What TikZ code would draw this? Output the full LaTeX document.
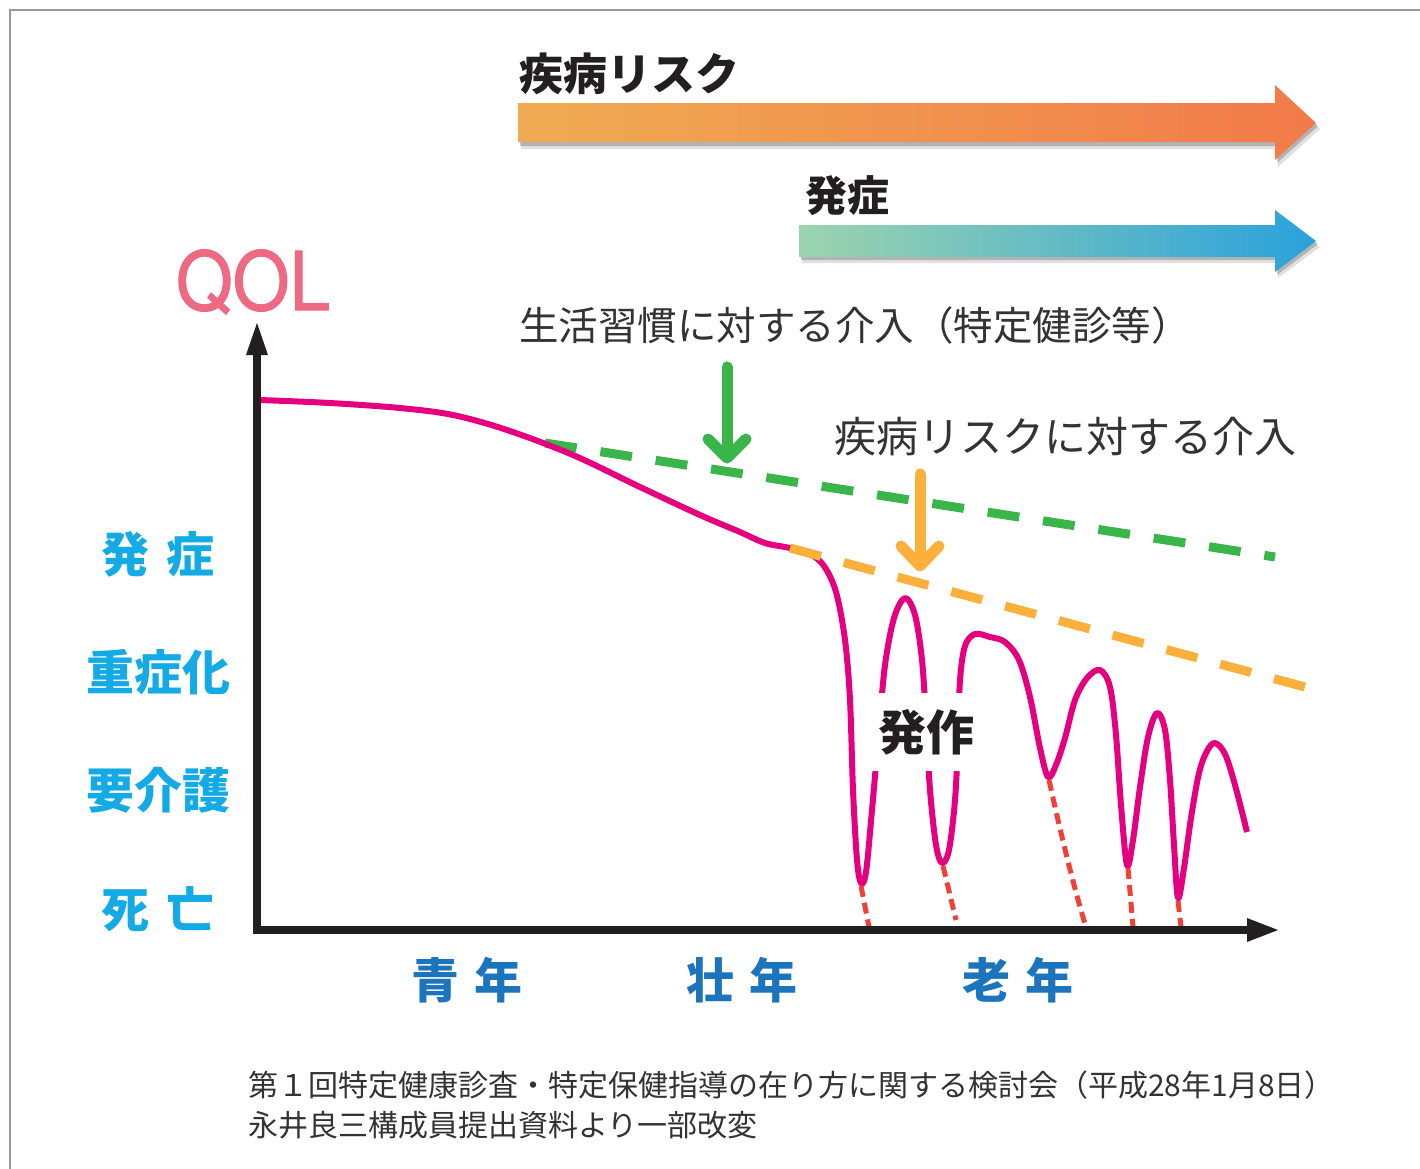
\documentclass[tikz,border=0pt]{standalone}
\usepackage{fontspec}
\newfontfamily\jp{Noto Sans CJK JP}
\newfontfamily\qolfont[FakeStretch=0.9, FakeBold=1.3]{TeX Gyre Heros}
\definecolor{pinkc}{HTML}{E4007F}
\definecolor{greenc}{HTML}{39B54A}
\definecolor{orangec}{HTML}{FBB03B}
\definecolor{redc}{HTML}{EF4136}
\definecolor{cyanc}{HTML}{14AAE6}
\definecolor{bluec}{HTML}{1C75BC}
\definecolor{qolc}{HTML}{EE6A82}
\definecolor{txtc}{HTML}{333333}
\definecolor{axisc}{HTML}{231F20}
\tikzset{
  lbl/.style={font=\jp\bfseries\fontsize{48}{52}\selectfont, text=cyanc, inner sep=0pt},
  agelbl/.style={font=\jp\bfseries\fontsize{48}{52}\selectfont, text=bluec, inner sep=0pt},
  head/.style={font=\jp\bfseries\fontsize{44}{48}\selectfont, text=axisc, inner sep=0pt},
  note/.style={font=\jp\fontsize{#1}{#1}\selectfont, text=txtc, inner sep=0pt},
  downarrow/.style={line width=11pt, line cap=round, line join=round},
  reddash/.style={redc, line width=5pt, dash pattern=on 11pt off 6pt},
}
\begin{document}
\begin{tikzpicture}[x=1pt,y=-1pt]
\useasboundingbox (0,0) rectangle (1420,1168);
% frame
\draw[gray!80, line width=2pt] (10,1172) -- (10,10) -- (1424,10);

% top arrows (shadows)
\fill[black, opacity=0.12] (521,109) -- (1278,109) -- (1278,91) -- (1320,129) -- (1278,167) -- (1278,149) -- (521,149) -- cycle;
\fill[black, opacity=0.2] (520,106) -- (1277,106) -- (1277,88) -- (1318,126) -- (1277,163) -- (1277,146) -- (520,146) -- cycle;
\shade[left color={rgb,255:red,239;green,171;blue,83}, right color={rgb,255:red,242;green,122;blue,74}]
  (518,103) -- (1275,103) -- (1275,85) -- (1316,123) -- (1275,160) -- (1275,142) -- (518,142) -- cycle;
\node[head] (risk) at (629,74) {疾病リスク};

\fill[black, opacity=0.12] (802,231) -- (1278,231) -- (1278,216) -- (1320,247) -- (1278,278) -- (1278,263) -- (802,263) -- cycle;
\fill[black, opacity=0.2] (801,228) -- (1277,228) -- (1277,213) -- (1318,244) -- (1277,275) -- (1277,260) -- (801,260) -- cycle;
\shade[left color={rgb,255:red,157;green,212;blue,174}, right color={rgb,255:red,42;green,161;blue,220}]
  (799,225) -- (1275,225) -- (1275,210) -- (1316,241) -- (1275,272) -- (1275,257) -- (799,257) -- cycle;
\node[head, font=\jp\bfseries\fontsize{42}{46}\selectfont] (onset) at (847,196) {発症};

% QOL
\node[font=\qolfont\fontsize{81}{85}\selectfont, text=qolc, anchor=base, inner sep=0pt] (qol) at (253,310) {QOL};

% intervention texts
\node[note=39.5] (t1) at (855,325) {生活習慣に対する介入（特定健診等）};
\node[note=42] (t2) at (1065,437) {疾病リスクに対する介入};

% green dashed trend
\draw[greenc, line width=9pt, dash pattern=on 32pt off 24pt] (545,443) -- (1275,557);

% pink curve
\draw[pinkc, line width=6pt, line join=round] plot[smooth, tension=0.55] coordinates {
(260,400) (330,403) (400,408) (453,415) (507,430) (573,455) (640,487) (700,515) (740,532) (765,543) (790,548) (810,554) (824,566) (836,592) (845,640) (850,700) (853,790) (857,860) (861,883) (866,872) (872,810) (879,730) (885,665) (894,618) (905,598) (915,615) (922,660) (926,720) (930,790) (936,845) (942,863) (949,850) (955,800) (958,740) (960,680) (965,646) (975,634) (990,637) (1005,642) (1019,660) (1030,697) (1040,748) (1048,777) (1056,765) (1065,738) (1075,700) (1087,678) (1100,670) (1110,687) (1116,735) (1121,805) (1127,865) (1133,840) (1140,787) (1148,737) (1157,713) (1165,730) (1170,780) (1174,845) (1178,898) (1184,868) (1191,818) (1199,773) (1207,751) (1215,743) (1225,754) (1235,785) (1247,832)};

% orange dashed trend
\draw[orangec, line width=9pt, dash pattern=on 32pt off 23.7pt] (790,548) -- (1305,687);

% red dashed to death
\draw[reddash] (861,886) -- (869,927);
\draw[reddash] (943,866) -- (956,920);
\draw[reddash] (1049,780) .. controls (1060,830) and (1073,885) .. (1086,927);
\draw[reddash] (1128,868) -- (1133,927);
\draw[reddash] (1178,901) -- (1181,927);

% seizure label with white knockout
\node[fill=white, minimum width=110pt, minimum height=78pt, inner sep=0pt, font=\jp\bfseries\fontsize{48}{52}\selectfont, text=axisc] (attack) at (926,732) {発作};

% down arrows
\draw[greenc, downarrow] (727,367) -- (727,457);
\draw[greenc, downarrow] (708,439) -- (727,458) -- (746,439);
\draw[orangec, downarrow] (920,474) -- (920,565);
\draw[orangec, downarrow] (901,546) -- (920,566) -- (939,546);

% axes
\draw[axisc, line width=8pt] (257,934) -- (257,350);
\fill[axisc] (246,355) -- (257,323) -- (268,355) -- cycle;
\draw[axisc, line width=8pt] (253,930) -- (1250,930);
\fill[axisc] (1247,918) -- (1278,930) -- (1247,942) -- cycle;

% y labels
\node[lbl] (l1) at (158,554) {発\hspace{17pt}症};
\node[lbl] (l2) at (158,672) {重症化};
\node[lbl] (l3) at (158,790) {要介護};
\node[lbl] (l4) at (158,909) {死\hspace{17pt}亡};

% x labels
\node[agelbl] (a1) at (467,980) {青\hspace{16pt}年};
\node[agelbl] (a2) at (742,980) {壮\hspace{16pt}年};
\node[agelbl] (a3) at (1018,980) {老\hspace{16pt}年};

% footnote
\node[note=30, anchor=west] (f1) at (248,1085) {第１回特定健康診査・特定保健指導の在り方に関する検討会（平成28年1月8日）};
\node[note=30, anchor=west] (f2) at (248,1125) {永井良三構成員提出資料より一部改変};
\end{tikzpicture}
\end{document}
